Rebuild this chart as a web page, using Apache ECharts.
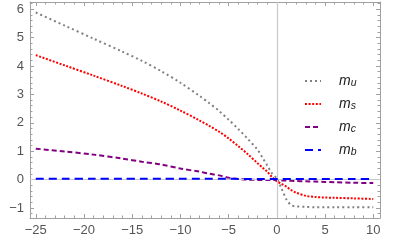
<!DOCTYPE html>
<html>
<head>
<meta charset="utf-8">
<script src="https://cdn.jsdelivr.net/npm/echarts@6/dist/echarts.min.js"></script>
<style>html,body{margin:0;padding:0;background:#fff}#c{width:415px;height:248px}</style>
</head>
<body>
<div id="c"></div>
<script>
// ---- data ----
var xs = [-25,-22,-19,-16,-14,-12,-10,-8,-7,-6,-5,-4,-3,-2,-1.5,-1,-0.5,0,0.5,1,1.5,2,3,4,5,6,8,10];
var mu = [5.88,5.42,4.96,4.50,4.18,3.82,3.41,2.94,2.69,2.42,2.11,1.78,1.43,1.05,0.78,0.50,0.22,0.04,-0.32,-0.70,-0.90,-0.94,-0.96,-0.97,-0.97,-0.97,-0.97,-0.97];
var ms = [4.38,4.02,3.66,3.29,3.03,2.75,2.43,2.08,1.89,1.69,1.45,1.18,0.89,0.58,0.43,0.28,0.09,-0.06,-0.15,-0.25,-0.37,-0.46,-0.57,-0.61,-0.63,-0.64,-0.66,-0.68];
var mc = [1.09,0.99,0.88,0.74,0.63,0.53,0.39,0.28,0.21,0.15,0.07,0.02,0.00,-0.01,-0.01,-0.01,-0.01,-0.02,-0.03,-0.03,-0.04,-0.05,-0.06,-0.07,-0.08,-0.09,-0.11,-0.12];
var mb = [0.03,0.03,0.03,0.03,0.03,0.03,0.03,0.03,0.03,0.03,0.03,0.025,0.025,0.02,0.02,0.02,0.02,0.02,0.02,0.02,0.02,0.02,0.02,0.02,0.02,0.02,0.02,0.02];
var seriesNames = ['m_u','m_s','m_c','m_b'];
var xMajor = [-25,-20,-15,-10,-5,0,5,10];
var yMajor = [-1,0,1,2,3,4,5,6];
// --------------------------------------

function pairs(v){ return xs.map(function(x,i){ return [x, v[i]]; }); }
function range(a,b,s){ var r=[]; for(var v=a; v<=b+1e-9; v+=s){ r.push(Math.round(v*100)/100); } return r; }
var xMinor = range(-25,10,1);
var yMinor = range(-1.2,6.2,0.2);

var XMIN=-25.6, XMAX=10.7, YMIN=-1.35, YMAX=6.25;
var frame = '#a0a0a0';
var lab = {color:'#555', fontSize:13, fontFamily:'Liberation Sans'};

function ax(kind, grid, pos, ticks, len, labels, showLine){
  return {type:'value', gridIndex:grid, position:pos,
    min: kind==='x'?XMIN:YMIN, max: kind==='x'?XMAX:YMAX,
    axisLine:{show:showLine, onZero:false, lineStyle:{color:frame, width:1}},
    axisTick:{show:true, inside:true, length:len, customValues:ticks, lineStyle:{color:frame}},
    axisLabel: labels ? Object.assign({show:true, customValues:ticks, margin:6,
      formatter:function(v){ return String(v).replace('-','\u2212'); }}, lab) : {show:false},
    splitLine:{show:false}};
}

var g = {left:30, right:35, top:2, bottom:30};
var subs = {'m_u':'u','m_s':'s','m_c':'c','m_b':'b'};
var colors = ['#808080','#ff0000','#800080','#0000ff'];
var dashes = [[2,3],[2,1.6],[5,3],[8,5]];
var vals = [mu, ms, mc, mb];

var series = [{
  type:'line', xAxisIndex:0, yAxisIndex:0, data:[], z:1, silent:true,
  markLine:{silent:true, symbol:'none', label:{show:false}, animation:false,
    lineStyle:{color:'#c8c8c8', width:1.2, type:'solid'},
    data:[{xAxis:0},{yAxis:0}]}
}];
seriesNames.forEach(function(n,i){
  series.push({name:n, type:'line', xAxisIndex:0, yAxisIndex:0, data:pairs(vals[i]),
    smooth:0.3, showSymbol:false, symbol:'none', z:2+i, animation:false,
    lineStyle:{color:colors[i], width:2, type:dashes[i], cap:'butt'},
    itemStyle:{color:colors[i]}});
});

var chart = echarts.init(document.getElementById('c'), null, {renderer:'canvas'});
chart.setOption({
  animation:false,
  grid:[Object.assign({}, g), Object.assign({}, g)],
  xAxis:[ax('x',0,'bottom',xMajor,4,true,true), ax('x',0,'top',xMajor,4,false,true),
         ax('x',1,'bottom',xMinor,2.5,false,false), ax('x',1,'top',xMinor,2.5,false,false)],
  yAxis:[ax('y',0,'left',yMajor,4,true,true), ax('y',0,'right',yMajor,4,false,true),
         ax('y',1,'left',yMinor,2.5,false,false), ax('y',1,'right',yMinor,2.5,false,false)],
  legend:{data:seriesNames, orient:'vertical', left:299, top:67, itemWidth:16, itemHeight:14, itemGap:6,
    itemStyle:{opacity:0},
    lineStyle:{width:2},
    formatter:function(n){ return '{i|m}{s|' + subs[n] + '}'; },
    textStyle:{padding:[0,0,0,13], rich:{
      i:{fontStyle:'italic', fontSize:14, fontFamily:'Liberation Sans', color:'#222', lineHeight:16, verticalAlign:'middle'},
      s:{fontStyle:'italic', fontSize:10.5, fontFamily:'Liberation Sans', color:'#222', lineHeight:16, verticalAlign:'bottom', padding:[6,0,0,0]}
    }}},
  series:series
});
</script>
</body>
</html>
